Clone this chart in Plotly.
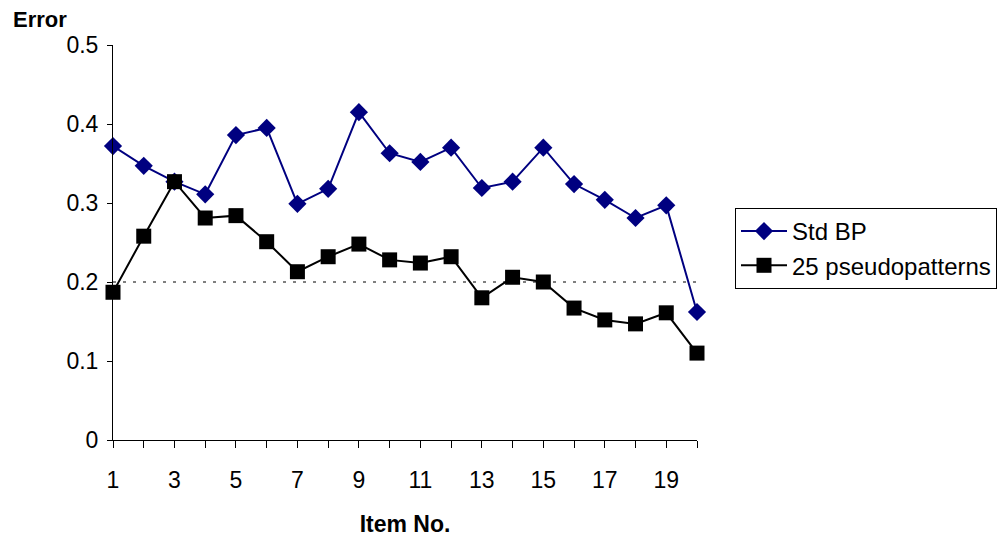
import plotly.graph_objects as go

items = list(range(1, 21))
std_bp = [0.372, 0.347, 0.327, 0.311, 0.386, 0.395, 0.299, 0.318, 0.415, 0.363,
          0.352, 0.370, 0.319, 0.327, 0.370, 0.324, 0.304, 0.281, 0.297, 0.162]
pseudo25 = [0.187, 0.258, 0.327, 0.281, 0.284, 0.251, 0.213, 0.232, 0.248, 0.228,
            0.224, 0.232, 0.180, 0.206, 0.200, 0.167, 0.152, 0.147, 0.161, 0.110]
x_tick_text = [str(i) if i % 2 == 1 else "" for i in items]
y_ticks = [0, 0.1, 0.2, 0.3, 0.4, 0.5]
y_tick_text = ["0", "0.1", "0.2", "0.3", "0.4", "0.5"]
ref_level = 0.2

FONT = "Liberation Sans, Arial, sans-serif"

# page has 8px body margin; plot area target: x 113..697, y 45..440 on screen
OFF = 8
L, T, PW, PH = 113 - OFF, 45 - OFF, 584, 395

fig = go.Figure()
fig.add_trace(go.Scatter(
    x=items, y=std_bp, name="Std BP", mode="lines+markers",
    line=dict(color="#000080", width=2),
    marker=dict(symbol="diamond", size=14, color="#000080"),
    cliponaxis=False,
))
fig.add_trace(go.Scatter(
    x=items, y=pseudo25, name="25 pseudopatterns", mode="lines+markers",
    line=dict(color="black", width=2),
    marker=dict(symbol="square", size=15, color="black"),
    cliponaxis=False,
))

fig.add_shape(type="line", xref="x", yref="y", x0=items[0], x1=items[-1],
              y0=ref_level, y1=ref_level,
              line=dict(color="black", width=1, dash="3px,7px"), layer="below")

fig.update_layout(
    width=1005, height=550,
    margin=dict(l=L, r=1005 - L - PW, t=T, b=550 - T - PH, autoexpand=False),
    paper_bgcolor="white", plot_bgcolor="white",
    font=dict(family=FONT, size=23, color="black"),
    showlegend=True,
    legend=dict(
        x=(735 - 113) / PW, y=(440 - 208) / PH, xanchor="left", yanchor="top",
        bordercolor="black", borderwidth=1, bgcolor="white",
        font=dict(size=24, family=FONT), tracegroupgap=2, itemwidth=46,
    ),
    xaxis=dict(
        range=[1, 20], tickmode="array", tickvals=items, ticktext=x_tick_text,
        showgrid=False, zeroline=False, showline=True, linecolor="black", linewidth=1,
        ticks="outside", ticklen=7, tickcolor="black",
        tickfont=dict(size=23, family=FONT), ticklabelstandoff=12,
        title=dict(text="<b>Item No.</b>", font=dict(size=23, family=FONT), standoff=24),
    ),
    yaxis=dict(
        range=[0, 0.5], tickmode="array", tickvals=y_ticks, ticktext=y_tick_text,
        showgrid=False, zeroline=False, showline=True, linecolor="black", linewidth=1,
        ticks="outside", ticklen=5, tickcolor="black",
        tickfont=dict(size=23, family=FONT), ticklabelstandoff=4,
    ),
)

fig.add_annotation(
    text="<b>Error</b>", xref="paper", yref="paper",
    x=(12 - 113) / PW, y=1 + (T + 2) / PH, xanchor="left", yanchor="top",
    showarrow=False, font=dict(size=22, family=FONT), borderpad=0,
)

fig.write_html("out.html")
